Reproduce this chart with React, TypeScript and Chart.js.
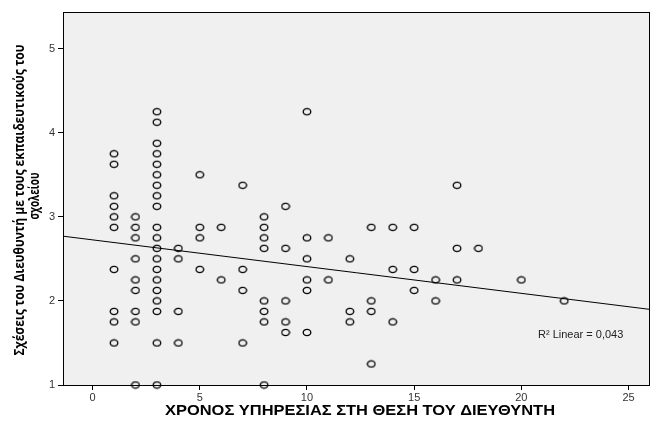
import React, { useEffect, useRef } from "react";
import { Chart, registerables } from "chart.js";

Chart.register(...registerables);

// Years of service as director (x) and relations score (y), one entry per respondent
const years: number[] = [
  1, 1, 1, 1, 1, 1, 1, 1, 1, 1,
  2, 2, 2, 2, 2, 2, 2, 2, 2,
  3, 3, 3, 3, 3, 3, 3, 3, 3, 3, 3, 3, 3, 3, 3, 3, 3, 3, 3, 3,
  4, 4, 4, 4,
  5, 5, 5, 5,
  6, 6,
  7, 7, 7, 7,
  8, 8, 8, 8, 8, 8, 8, 8,
  9, 9, 9, 9, 9,
  10, 10, 10, 10, 10, 10,
  11, 11,
  12, 12, 12,
  13, 13, 13, 13,
  14, 14, 14,
  15, 15, 15,
  16, 16,
  17, 17, 17,
  18,
  20,
  22,
];
const relations: number[] = [
  3.75, 3.625, 3.25, 3.125, 3.0, 2.875, 2.375, 1.875, 1.75, 1.5,
  3.0, 2.875, 2.75, 2.5, 2.25, 2.125, 1.875, 1.75, 1.0,
  4.25, 4.125, 3.875, 3.75, 3.625, 3.5, 3.375, 3.25, 3.125, 2.875, 2.75, 2.625, 2.5, 2.375, 2.25, 2.125, 2.0, 1.875, 1.5, 1.0,
  2.625, 2.5, 1.875, 1.5,
  3.5, 2.875, 2.75, 2.375,
  2.875, 2.25,
  3.375, 2.375, 2.125, 1.5,
  3.0, 2.875, 2.75, 2.625, 2.0, 1.875, 1.75, 1.0,
  3.125, 2.625, 2.0, 1.75, 1.625,
  4.25, 2.75, 2.5, 2.25, 2.125, 1.625,
  2.75, 2.25,
  2.5, 1.875, 1.75,
  2.875, 2.0, 1.875, 1.25,
  2.875, 2.375, 1.75,
  2.875, 2.375, 2.125,
  2.25, 2.0,
  3.375, 2.625, 2.25,
  2.625,
  2.25,
  2.0,
];

const xTicks: number[] = [0, 5, 10, 15, 20, 25];
const yTicks: number[] = [1, 2, 3, 4, 5];
const xRange: number[] = [-1.38, 26.0];
const yRange: number[] = [1.0, 5.436];

// Fitted linear regression
const fitIntercept = 2.726;
const fitSlope = -0.0318;
const fitLabel = "R\u00B2 Linear = 0,043";

const xTitle = "ΧΡΟΝΟΣ ΥΠΗΡΕΣΙΑΣ ΣΤΗ ΘΕΣΗ ΤΟΥ ΔΙΕΥΘΥΝΤΗ";
const yTitleLines: string[] = ["Σχέσεις του Διευθυντή με τους εκπαιδευτικούς του", "σχολείου"];

function makeMarker(): HTMLCanvasElement {
  const c = document.createElement("canvas");
  c.width = 10;
  c.height = 9;
  const g = c.getContext("2d")!;
  g.strokeStyle = "#000";
  g.lineWidth = 1.3;
  g.beginPath();
  g.ellipse(5, 4.5, 3.8, 3.1, 0, 0, Math.PI * 2);
  g.stroke();
  return c;
}

function fitText(ctx: CanvasRenderingContext2D, text: string, cx: number, cy: number, width: number) {
  const w = ctx.measureText(text).width;
  const k = width / w;
  ctx.save();
  ctx.translate(cx, cy);
  ctx.scale(k, 1);
  ctx.fillText(text, 0, 0);
  ctx.restore();
}

export default function App() {
  const ref = useRef<HTMLCanvasElement | null>(null);

  useEffect(() => {
    document.body.style.margin = "0";
    const canvas = ref.current!;
    const marker = makeMarker();

    const points = years.map((x, i) => ({ x, y: relations[i] }));
    const fitPoints = xRange.map((x) => ({ x, y: fitIntercept + fitSlope * x }));

    const framePlugin = {
      id: "frame",
      beforeDraw(chart: any) {
        const { ctx, chartArea: a } = chart;
        ctx.save();
        ctx.fillStyle = "#F0F0F0";
        ctx.fillRect(a.left, a.top, a.right - a.left, a.bottom - a.top);
        ctx.restore();
      },
      afterDraw(chart: any) {
        const { ctx, chartArea: a } = chart;
        ctx.save();
        ctx.strokeStyle = "#000";
        ctx.lineWidth = 1;
        ctx.strokeRect(Math.round(a.left) + 0.5, Math.round(a.top) + 0.5, Math.round(a.right - a.left) - 1, Math.round(a.bottom - a.top));
        // R² annotation
        ctx.fillStyle = "#222";
        ctx.font = "11px 'Liberation Sans', Arial, sans-serif";
        ctx.textBaseline = "middle";
        ctx.textAlign = "left";
        ctx.fillText(fitLabel, 538, 335);
        // x title
        ctx.font = "bold 15px 'Liberation Sans', Arial, sans-serif";
        ctx.textAlign = "center";
        ctx.fillStyle = "#000";
        fitText(ctx, xTitle, 360, 411, 390);
        // y title
        ctx.font = "bold 15px 'Open Sans', 'Noto Sans', sans-serif";
        ctx.save();
        ctx.translate(20, 200);
        ctx.rotate(-Math.PI / 2);
        fitText(ctx, yTitleLines[0], 0, 0, 311);
        ctx.restore();
        ctx.save();
        ctx.translate(35, 196);
        ctx.rotate(-Math.PI / 2);
        fitText(ctx, yTitleLines[1], 0, 0, 47);
        ctx.restore();
        ctx.restore();
      },
    };

    const chart = new Chart(canvas, {
      type: "scatter",
      data: {
        datasets: [
          {
            type: "scatter",
            data: points,
            pointStyle: marker as any,
            pointRadius: 4,
            clip: false as any,
          },
          {
            type: "line",
            data: fitPoints,
            borderColor: "#000",
            borderWidth: 1,
            pointRadius: 0,
            fill: false,
          } as any,
        ],
      },
      options: {
        animation: false,
        responsive: false,
        events: [],
        layout: { padding: { top: 12, right: 1, left: 0, bottom: 0 } },
        plugins: { legend: { display: false }, tooltip: { enabled: false } },
        scales: {
          x: {
            type: "linear",
            min: xRange[0],
            max: xRange[1],
            afterBuildTicks: (s: any) => {
              s.ticks = xTicks.map((v) => ({ value: v }));
            },
            afterFit: (s: any) => {
              s.height = 41;
            },
            grid: { drawOnChartArea: false, drawTicks: true, tickLength: 5, color: "#000" },
            border: { display: false },
            ticks: {
              color: "#333",
              padding: 1,
              maxRotation: 0,
              font: { size: 11, family: "'Liberation Sans', Arial, sans-serif" },
            },
          },
          y: {
            type: "linear",
            min: yRange[0],
            max: yRange[1],
            afterBuildTicks: (s: any) => {
              s.ticks = yTicks.map((v) => ({ value: v }));
            },
            afterFit: (s: any) => {
              s.width = 63;
            },
            grid: { drawOnChartArea: false, drawTicks: true, tickLength: 5, color: "#000" },
            border: { display: false },
            ticks: {
              color: "#333",
              padding: 3,
              font: { size: 11, family: "'Liberation Sans', Arial, sans-serif" },
            },
          },
        },
      },
      plugins: [framePlugin],
    });

    return () => chart.destroy();
  }, []);

  return (
    <div style={{ width: 655, height: 426 }}>
      <canvas ref={ref} width={655} height={426} style={{ display: "block" }} />
    </div>
  );
}
